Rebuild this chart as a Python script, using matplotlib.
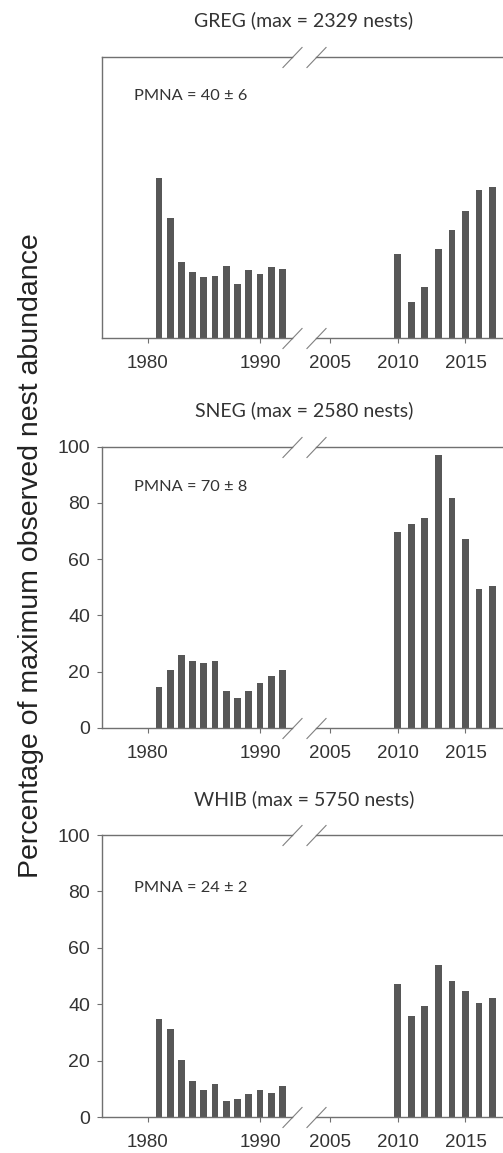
import numpy as np
import matplotlib
matplotlib.use("Agg")
import matplotlib.pyplot as plt

years_early = [1981, 1982, 1983, 1984, 1985, 1986, 1987, 1988, 1989, 1990, 1991, 1992]
years_late = [2010, 2011, 2012, 2013, 2014, 2015, 2016, 2017]

species = ["GREG", "SNEG", "WHIB"]
max_nests = [2329, 2580, 5750]
pmna = ["40 ± 6", "70 ± 8", "24 ± 2"]

greg_early = [56.9, 42.4, 27.0, 23.2, 21.5, 21.8, 25.6, 19.2, 24.1, 22.8, 25.1, 24.3]
greg_late = [29.6, 12.8, 18.1, 31.5, 38.2, 45.1, 52.7, 53.5]
sneg_early = [14.6, 20.4, 26.0, 23.8, 23.0, 23.8, 13.2, 10.4, 13.2, 15.8, 18.3, 20.6]
sneg_late = [69.8, 72.5, 74.5, 97.0, 81.6, 67.1, 49.4, 50.4]
whib_early = [34.7, 31.2, 20.3, 12.9, 9.6, 11.6, 5.5, 6.5, 8.3, 9.7, 8.5, 11.1]
whib_late = [47.3, 35.9, 39.2, 54.0, 48.2, 44.6, 40.6, 42.1]

early = [greg_early, sneg_early, whib_early]
late = [greg_late, sneg_late, whib_late]

W, H = 503, 1153
fig = plt.figure(figsize=(W / 100, H / 100), dpi=100)

bar_col = "#575757"
spine_col = "#707070"
txt_col = "#333333"
tick_font = "Liberation Sans"
lab_font = "Lato"

# panel top/bottom spine rows in pixels
rows = [(56.5, 337.7), (446.7, 727.7), (835.0, 1117.0)]
xl0, xl1 = 101.7, 292.0
xr0 = 316.0

for i in range(3):
    top, bot = rows[i]
    y0 = 1 - bot / H
    h = (bot - top) / H
    axl = fig.add_axes([xl0 / W, y0, (xl1 - xl0) / W, h])
    axr = fig.add_axes([xr0 / W, y0, 1 - xr0 / W, h])

    axl.bar(years_early, early[i], width=0.6, color=bar_col)
    axr.bar(years_late, late[i], width=0.5, color=bar_col)

    axl.set_xlim(1975.9, 1992.85)
    axr.set_xlim(2004.0, 2017.76)
    for ax in (axl, axr):
        ax.set_ylim(0, 100)
        for s in ax.spines.values():
            s.set_color(spine_col)
            s.set_linewidth(1.0)
        ax.tick_params(axis="x", direction="out", length=3.5, width=0.8,
                       color=spine_col, labelsize=13.5, pad=9, labelcolor=txt_col)
    axl.spines["right"].set_visible(False)
    axr.spines["left"].set_visible(False)
    axr.spines["right"].set_visible(False)
    axl.set_xticks([1980, 1990])
    axr.set_xticks([2005, 2010, 2015])
    axr.set_yticks([])
    if i == 0:
        axl.set_yticks([])
    else:
        axl.set_yticks([0, 20, 40, 60, 80, 100])
        axl.tick_params(axis="y", direction="out", length=3.5, width=0.8,
                        color=spine_col, labelsize=14, pad=5, labelcolor=txt_col)
    for ax in (axl, axr):
        for lbl in ax.get_xticklabels() + ax.get_yticklabels():
            lbl.set_fontfamily(tick_font)

    # break marks
    kw = dict(marker=[(-1, -1.05), (1, 1.05)], markersize=15, linestyle="none",
              color=spine_col, mec="#808080", mew=0.8, clip_on=False)
    axl.plot([1, 1], [0, 1], transform=axl.transAxes, **kw)
    axr.plot([0, 0], [0, 1], transform=axr.transAxes, **kw)

    axl.text(1978.8, 85.8 if i < 2 else 81.2, "PMNA = " + pmna[i], fontsize=11.8,
             family=lab_font, color=txt_col, ha="left", va="center")

    fig.text(304 / W, 1 - (top - 36) / H, f"{species[i]} (max = {max_nests[i]} nests)",
             ha="center", va="center", fontsize=14, family=lab_font, color=txt_col)

fig.text(31 / W, 1 - 556 / H, "Percentage of maximum observed nest abundance",
         rotation=90, ha="center", va="center", fontsize=20.5, family=tick_font,
         color="#222222")

fig.savefig("out.png", dpi=100)
